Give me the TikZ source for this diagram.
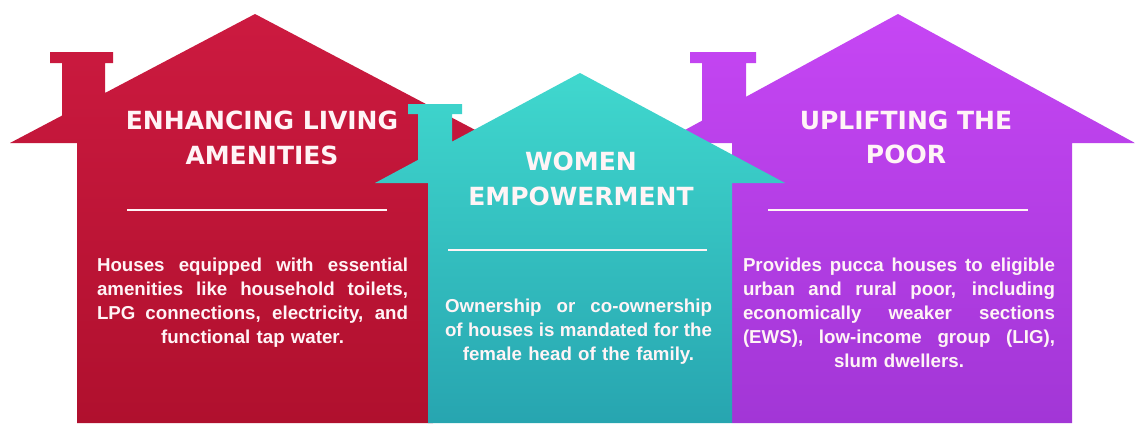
\documentclass[tikz,border=0pt]{standalone}
\usepackage{fontspec}
\setmainfont{Liberation Sans}
\newfontfamily\ttlfont{DejaVu Sans}
\newcommand\jline[2]{\makebox[#1][s]{\spaceskip=.25em plus 1fil\relax\xspaceskip=.25em plus 1fil\relax #2}}
\definecolor{redT}{HTML}{CC1A40}
\definecolor{redB}{HTML}{B0102E}
\definecolor{tealT}{HTML}{40D8CE}
\definecolor{tealB}{HTML}{27A5B0}
\definecolor{purT}{HTML}{C646F4}
\definecolor{purB}{HTML}{A236D6}
\definecolor{txt}{HTML}{FFF4F6}
\tikzset{
  ttl/.style={text=txt, font=\ttlfont\bfseries\fontsize{25}{34.5}\selectfont, align=center, inner sep=0pt},
  body/.style={text=txt, font=\bfseries\fontsize{18.7}{24}\selectfont, align=center, inner sep=0pt},
  sep/.style={draw=txt, line width=1.6pt},
}
\begin{document}
\begin{tikzpicture}[x=1pt,y=-1pt]
\useasboundingbox[fill=white] (0,0) rectangle (1135,423);
% red house
\shade[top color=redT, bottom color=redB] (10,143) -- (62,115.6) -- (62,63) -- (50,63) -- (50,52) -- (113,52) -- (113,63) -- (105,63) -- (105,93) -- (255,14) -- (500,143) -- (433,143) -- (433,423) -- (77,423) -- (77,143) -- cycle;
% purple house
\shade[top color=purT, bottom color=purB] (661,143) -- (702,120.7) -- (702,63) -- (690,63) -- (690,52) -- (756,52) -- (756,63) -- (746,63) -- (746,96.8) -- (898,14) -- (1135,143) -- (1072,143) -- (1072,423) -- (732,423) -- (732,143) -- cycle;
% teal house
\shade[top color=tealT, bottom color=tealB] (375,183) -- (418,159.9) -- (418,114) -- (408,114) -- (408,104) -- (462,104) -- (462,114) -- (452,114) -- (452,141.7) -- (580,73) -- (785,183) -- (732,183) -- (732,423) -- (428,423) -- (428,183) -- cycle;
% titles
\node[ttl] (t1) at (262,138) {ENHANCING LIVING\\AMENITIES};
\node[ttl] (t2) at (581,179) {WOMEN\\EMPOWERMENT};
\node[ttl] (t3) at (906,137.5) {UPLIFTING THE\\POOR};
% separators
\coordinate (s1a) at (127,210); \coordinate (s1b) at (387,210);
\coordinate (s2a) at (448,250); \coordinate (s2b) at (707,250);
\coordinate (s3a) at (768,210); \coordinate (s3b) at (1028,210);
\draw[sep] (s1a) -- (s1b);
\draw[sep] (s2a) -- (s2b);
\draw[sep] (s3a) -- (s3b);
% bodies
\node[body, text width=311pt] (b1) at (252.5,303) {\jline{311pt}{Houses equipped with essential}\\\jline{311pt}{amenities like household toilets,}\\\jline{311pt}{LPG connections, electricity, and}\\functional tap water.};
\node[body, text width=267pt] (b2) at (578.5,332) {\jline{267pt}{Ownership or co-ownership}\\\jline{267pt}{of houses is mandated for the}\\female head of the family.};
\node[body, text width=312pt] (b3) at (899,312.5) {\jline{312pt}{Provides pucca houses to eligible}\\\jline{312pt}{urban and rural poor, including}\\\jline{312pt}{economically weaker sections}\\\jline{312pt}{(EWS), low-income group (LIG),}\\slum dwellers.};
\end{tikzpicture}
\end{document}
